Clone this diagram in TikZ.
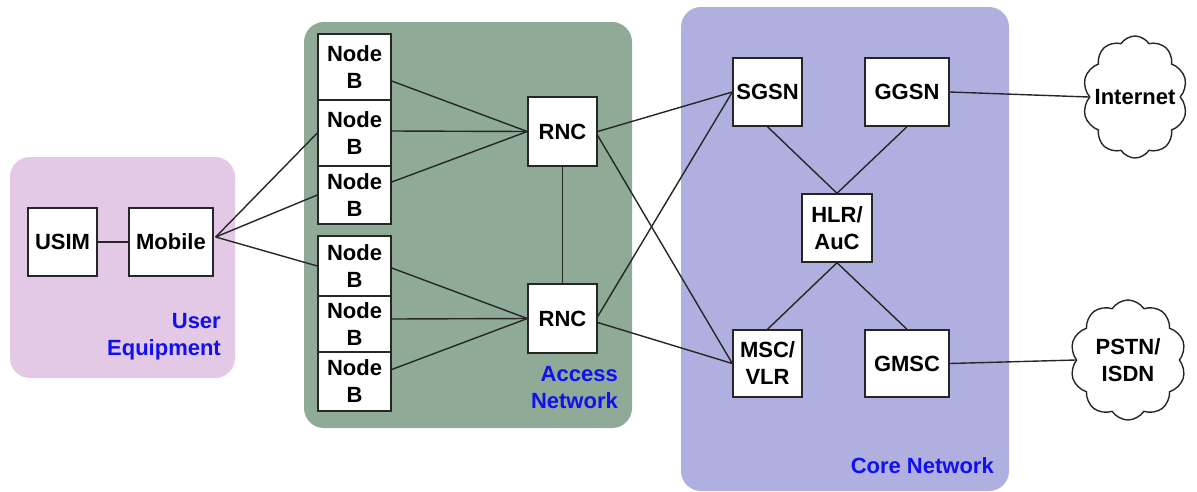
\documentclass[tikz,border=0pt]{standalone}
\usepackage{fontspec}
\setmainfont{Liberation Sans}
\usetikzlibrary{shapes.symbols,calc}
\definecolor{uefill}{HTML}{E3C9E5}
\definecolor{anfill}{HTML}{8FAA97}
\definecolor{cnfill}{HTML}{B0B0E0}
\definecolor{lblblue}{HTML}{1010F0}
\tikzset{
  region/.style={rounded corners=20pt, draw=none},
  box/.style={draw=black!85, fill=white, line width=1.4pt, inner sep=0pt, align=center,
    font=\fontsize{22}{27}\selectfont\bfseries},
  cloudbox/.style={cloud, cloud puffs=10, cloud puff arc=115, aspect=0.85, draw=black!85, fill=white,
    line width=1.4pt, inner xsep=-14pt, inner ysep=0pt, align=center, font=\fontsize{22}{27}\selectfont\bfseries},
  link/.style={line width=1.4pt, draw=black!85},
  regionlabel/.style={text=lblblue, align=right, anchor=east, inner sep=0pt,
    font=\fontsize{22}{27}\selectfont\bfseries}
}
\begin{document}
\begin{tikzpicture}[x=1pt,y=-1pt]
\useasboundingbox (0,0) rectangle (1197,491);
% regions
\fill[uefill, region] (10,157) rectangle (235,378);
\fill[anfill, region] (304,22) rectangle (632,428);
\fill[cnfill, region] (681,7) rectangle (1009,491);
% labels
\node[regionlabel] (uelbl) at (221,337) {User\\Equipment};
\node[regionlabel] (anlbl) at (618,388) {Access\\Network};
\node[regionlabel] (cnlbl) at (994,466) {Core Network};
% UE nodes
\node[box, minimum width=69pt, minimum height=68pt] (usim) at (62.5,242) {USIM};
\node[box, minimum width=84pt, minimum height=68pt] (mobile) at (171,242) {Mobile};
% Node B stacks
\node[box, minimum width=73pt, minimum height=66pt] (nb1) at (354.5,67) {Node\\B};
\node[box, minimum width=73pt, minimum height=66pt] (nb2) at (354.5,133) {Node\\B};
\node[box, minimum width=73pt, minimum height=58pt] (nb3) at (354.5,195) {Node\\B};
\node[box, minimum width=73pt, minimum height=60pt] (nb4) at (354.5,266) {Node\\B};
\node[box, minimum width=73pt, minimum height=56pt] (nb5) at (354.5,324) {Node\\B};
\node[box, minimum width=73pt, minimum height=59pt] (nb6) at (354.5,381.5) {Node\\B};
% RNCs
\node[box, minimum width=69pt, minimum height=69pt] (rnc1) at (562.5,131.5) {RNC};
\node[box, minimum width=69pt, minimum height=69pt] (rnc2) at (562.5,318.5) {RNC};
% Core
\node[box, minimum width=69pt, minimum height=68pt] (sgsn) at (767.5,92) {SGSN};
\node[box, minimum width=84pt, minimum height=68pt] (ggsn) at (907,92) {GGSN};
\node[box, minimum width=70pt, minimum height=68pt] (hlr) at (837,228) {HLR/\\AuC};
\node[box, minimum width=69pt, minimum height=67pt] (msc) at (767.5,363.5) {MSC/\\VLR};
\node[box, minimum width=84pt, minimum height=67pt] (gmsc) at (907,363.5) {GMSC};
% Clouds
\node[cloudbox, minimum width=105pt, minimum height=122pt] (inet) at (1135,97) {Internet};
\node[cloudbox, minimum width=116pt, minimum height=120pt] (pstn) at (1128,360) {PSTN/\\ISDN};
% connectors
\draw[link] (usim) -- (mobile);
\coordinate (mobout) at ($(mobile.east)+(2,-5)$);
\draw[link] (mobout) -- (nb2.west);
\draw[link] (mobout) -- (nb3.west);
\draw[link] (mobout) -- (nb4.west);
\draw[link] ($(nb1.east)+(0,14)$) -- (rnc1.west);
\draw[link] ($(nb2.east)+(0,-2)$) -- (rnc1.west);
\draw[link] ($(nb3.east)+(0,-13)$) -- (rnc1.west);
\draw[link] ($(nb4.east)+(0,2)$) -- (rnc2.west);
\draw[link] ($(nb5.east)+(0,-5)$) -- (rnc2.west);
\draw[link] ($(nb6.east)+(0,-12)$) -- (rnc2.west);
\draw[link] (rnc1.south) -- (rnc2.north);
\draw[link] (rnc1.east) -- (sgsn.west);
\draw[link] ($(rnc1.east)+(0,4)$) -- (msc.west);
\draw[link] ($(rnc2.east)+(0,-2)$) -- (sgsn.west);
\draw[link] ($(rnc2.east)+(0,4)$) -- (msc.west);
\draw[link] (sgsn.south) -- (hlr.north);
\draw[link] (ggsn.south) -- (hlr.north);
\draw[link] (hlr.south) -- (msc.north);
\draw[link] (hlr.south) -- (gmsc.north);
\draw[link] (ggsn.east) -- (inet.west);
\draw[link] (gmsc.east) -- (pstn.west);
\end{tikzpicture}
\end{document}
